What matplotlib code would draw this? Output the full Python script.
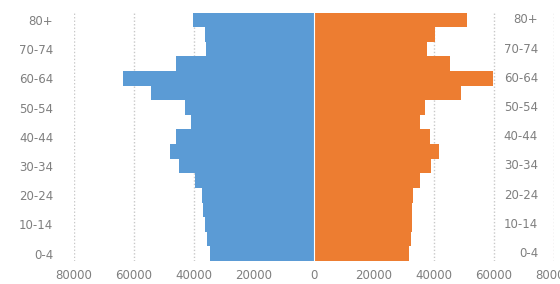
"""
Population pyramid: male (left, blue) vs female (right, orange) by age group.
"""
import matplotlib
matplotlib.use("Agg")
import matplotlib.pyplot as plt
from matplotlib.ticker import FuncFormatter
import numpy as np

AGE_GROUPS = [
    "0-4", "5-9", "10-14", "15-19", "20-24", "25-29", "30-34", "35-39",
    "40-44", "45-49", "50-54", "55-59", "60-64", "65-69", "70-74", "75-79", "80+",
]
MALE = [34800, 35600, 36400, 37000, 37300, 39600, 45000, 48100,
        45900, 41100, 42900, 54200, 63700, 45900, 36000, 36400, 40300]
FEMALE = [31600, 32400, 32700, 32800, 33000, 35200, 39100, 41600,
          38600, 35200, 36900, 48900, 59700, 45200, 37800, 40400, 51100]
X_TICKS = [-80000, -60000, -40000, -20000, 0, 20000, 40000, 60000, 80000]

COLORS = {"male": "#5b9bd5", "female": "#ed7d31"}
TEXT_GRAY = "#7f7f7f"


if __name__ == "__main__":
    fig = plt.figure(figsize=(5.6, 2.84), dpi=100)
    ax = fig.add_axes([74 / 560, 1 - 261 / 284, 480 / 560, (261 - 12.5) / 284])

    y = np.arange(len(AGE_GROUPS))
    ax.barh(y, -np.array(MALE), height=1.0, color=COLORS["male"], zorder=2)
    ax.barh(y, FEMALE, height=1.0, color=COLORS["female"], zorder=2)
    ax.axvline(0, color="white", lw=0.8, zorder=3)

    ax.set_xlim(-80000, 80000)
    ax.set_ylim(-0.5, len(AGE_GROUPS) - 0.5)
    ax.set_xticks(X_TICKS)
    ax.xaxis.set_major_formatter(FuncFormatter(lambda v, _: f"{abs(int(v))}"))
    ax.grid(axis="x", linestyle=(0, (1, 1.5)), color="#c8c8c8", lw=1.0, zorder=0)

    ax.set_yticks(y[::2])
    ax.set_yticklabels(AGE_GROUPS[::2])
    ax.tick_params(axis="both", length=0, colors=TEXT_GRAY, labelsize=8.5)
    ax.tick_params(axis="y", pad=15)
    ax.tick_params(axis="x", pad=6)

    # category labels repeated on the right, inside the plot area
    for yy, label in zip(y[::2], AGE_GROUPS[::2]):
        ax.text((538 - 74) / 480, yy, label, transform=ax.get_yaxis_transform(),
                ha="right", va="center", fontsize=8.5, color=TEXT_GRAY, zorder=4)

    for side in ax.spines.values():
        side.set_visible(False)

    fig.savefig("out.png", dpi=100)
